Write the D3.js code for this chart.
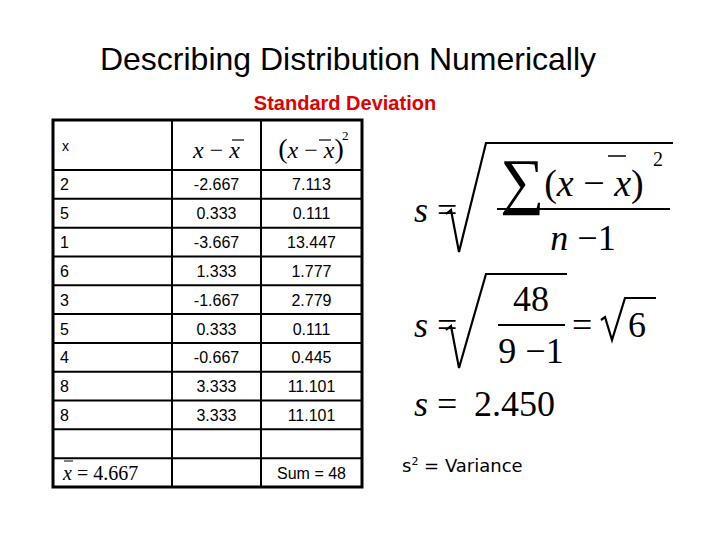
<!DOCTYPE html>
<html><head><meta charset="utf-8">
<script src="https://cdn.jsdelivr.net/npm/d3@7"></script>
<style>body{margin:0;background:#fff}</style></head>
<body><svg id="c" width="720" height="540"></svg>
<script>
// table data
const xs = ["2", "5", "1", "6", "3", "5", "4", "8", "8"];
const devs = ["-2.667", "0.333", "-3.667", "1.333", "-1.667", "0.333", "-0.667", "3.333", "3.333"];
const sqDevs = ["7.113", "0.111", "13.447", "1.777", "2.779", "0.111", "0.445", "11.101", "11.101"];
const meanLabel = "4.667";
const sumLabel = "Sum = 48";

const svg = d3.select("#c");
const sans = "Liberation Sans, Arial, sans-serif";
const serif = "Liberation Serif, Times New Roman, serif";

svg.append("text").attr("x", 348).attr("y", 70).attr("text-anchor", "middle")
  .attr("font-family", sans).attr("font-size", 32).text("Describing Distribution Numerically");
svg.append("text").attr("x", 345).attr("y", 110).attr("text-anchor", "middle")
  .attr("font-family", sans).attr("font-size", 20).attr("font-weight", "bold")
  .attr("fill", "#e00000").text("Standard Deviation");

// table layout via scales
const colEdges = [53, 172, 261, 362];
const rowY = d3.scaleLinear().domain([0, 11]).range([170, 487]); // body rows
const tableTop = 120;

const g = svg.append("g");
// inner horizontal lines
d3.range(0, 11).forEach(i => {
  g.append("line").attr("x1", colEdges[0]).attr("x2", colEdges[3])
    .attr("y1", rowY(i)).attr("y2", rowY(i)).attr("stroke", "#000").attr("stroke-width", 2);
});
[1, 2].forEach(c => {
  g.append("line").attr("x1", colEdges[c]).attr("x2", colEdges[c])
    .attr("y1", tableTop).attr("y2", rowY(11)).attr("stroke", "#000").attr("stroke-width", 2);
});
g.append("rect").attr("x", colEdges[0]).attr("y", tableTop)
  .attr("width", colEdges[3] - colEdges[0]).attr("height", rowY(11) - tableTop)
  .attr("fill", "none").attr("stroke", "#000").attr("stroke-width", 3);

const cx = c => (colEdges[c] + colEdges[c + 1]) / 2;
const cols = [xs, devs, sqDevs];
cols.forEach((arr, c) => {
  g.selectAll(null).data(arr).join("text")
    .attr("x", c === 0 ? 60 : cx(c)).attr("y", (d, i) => (rowY(i) + rowY(i + 1)) / 2 + 6)
    .attr("text-anchor", c === 0 ? "start" : "middle")
    .attr("font-family", sans).attr("font-size", 16).text(d => d);
});

// header
g.append("text").attr("x", 62).attr("y", 151).attr("font-family", sans).attr("font-size", 14).text("x");
const hdr = g.append("text").attr("x", cx(1)).attr("y", 158).attr("text-anchor", "middle")
  .attr("font-family", serif).attr("font-size", 24);
hdr.append("tspan").attr("font-style", "italic").text("x");
hdr.append("tspan").text(" − ");
hdr.append("tspan").attr("font-style", "italic").text("x");
g.append("line").attr("x1", 232).attr("x2", 244).attr("y1", 140).attr("y2", 140).attr("stroke", "#000").attr("stroke-width", 1.2);
const hdr2 = g.append("text").attr("x", 311).attr("y", 158).attr("text-anchor", "middle")
  .attr("font-family", serif).attr("font-size", 24);
hdr2.append("tspan").attr("font-size", 28).text("(");
hdr2.append("tspan").attr("font-style", "italic").text("x");
hdr2.append("tspan").text(" − ");
hdr2.append("tspan").attr("font-style", "italic").text("x");
hdr2.append("tspan").attr("font-size", 28).text(")");
g.append("text").attr("x", 342).attr("y", 140).attr("font-family", serif).attr("font-size", 13).text("2");
g.append("line").attr("x1", 319).attr("x2", 331).attr("y1", 140).attr("y2", 140).attr("stroke", "#000").attr("stroke-width", 1.2);

// footer
const ft = g.append("text").attr("x", 63).attr("y", (rowY(10) + rowY(11)) / 2 + 7)
  .attr("font-family", serif).attr("font-size", 20);
ft.append("tspan").attr("font-style", "italic").text("x");
ft.append("tspan").text(" = " + meanLabel);
g.append("line").attr("x1", 64).attr("x2", 73).attr("y1", 461).attr("y2", 461).attr("stroke", "#000").attr("stroke-width", 1);
g.append("text").attr("x", cx(2)).attr("y", (rowY(10) + rowY(11)) / 2 + 6).attr("text-anchor", "middle")
  .attr("font-family", sans).attr("font-size", 16).text(sumLabel);

// formulas
const f = svg.append("g").attr("font-family", serif);
function sIs(y) {
  const t = f.append("text").attr("x", 414).attr("y", y).attr("font-size", 36);
  t.append("tspan").attr("font-style", "italic").text("s");
  t.append("tspan").text(" =");
}
function radical(x0, yTop, yBot, x1) {
  f.append("path").attr("fill", "none").attr("stroke", "#000").attr("stroke-width", 2.2)
    .attr("d", `M${x0},${yBot - 38} L${x0 + 5},${yBot - 42} L${x0 + 13},${yBot} L${x0 + 40},${yTop} L${x1},${yTop}`);
}
sIs(222);
radical(446, 143, 252, 673);
const num = f.append("text").attr("x", 500).attr("y", 196).attr("font-size", 38);
num.append("tspan").attr("font-size", 62).attr("dy", 6).text("∑");
num.append("tspan").attr("dy", -6).text("(");
num.append("tspan").attr("font-style", "italic").text("x");
num.append("tspan").text(" − ");
num.append("tspan").attr("font-style", "italic").text("x");
num.append("tspan").text(")");
f.append("text").attr("x", 653).attr("y", 166).attr("font-size", 20).text("2");
f.append("line").attr("x1", 608).attr("x2", 626).attr("y1", 156).attr("y2", 156).attr("stroke", "#000").attr("stroke-width", 1.5);
f.append("line").attr("x1", 497).attr("x2", 670).attr("y1", 209).attr("y2", 209).attr("stroke", "#000").attr("stroke-width", 2);
const den = f.append("text").attr("x", 583).attr("y", 250).attr("text-anchor", "middle").attr("font-size", 36);
den.append("tspan").attr("font-style", "italic").text("n");
den.append("tspan").text(" −1");

sIs(337);
radical(446, 274, 368, 567);
f.append("text").attr("x", 531).attr("y", 311).attr("text-anchor", "middle").attr("font-size", 36).text("48");
f.append("line").attr("x1", 498).attr("x2", 565).attr("y1", 325).attr("y2", 325).attr("stroke", "#000").attr("stroke-width", 2);
f.append("text").attr("x", 531).attr("y", 363).attr("text-anchor", "middle").attr("font-size", 36).text("9 −1");
f.append("text").attr("x", 572).attr("y", 337).attr("font-size", 36).text("=");
f.append("path").attr("fill", "none").attr("stroke", "#000").attr("stroke-width", 2.2)
  .attr("d", "M601,320 L605,317 L612,340 L625,298 L656,298");
f.append("text").attr("x", 628).attr("y", 337).attr("font-size", 36).text("6");

sIs(416);
f.append("text").attr("x", 474).attr("y", 416).attr("font-size", 36).text("2.450");

const v = svg.append("text").attr("x", 402).attr("y", 472).attr("font-family", "DejaVu Sans, sans-serif").attr("font-size", 18);
v.append("tspan").text("s");
v.append("tspan").attr("font-size", 11).attr("dy", -7).text("2");
v.append("tspan").attr("dy", 7).text(" = Variance");
</script></body></html>
